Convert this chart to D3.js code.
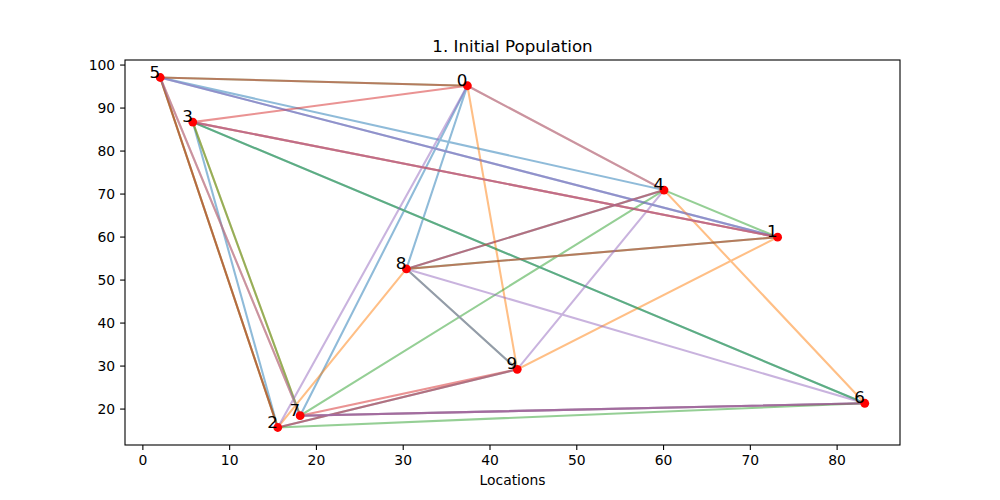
<!DOCTYPE html>
<html lang="en">
<head>
<meta charset="UTF-8">
<title>Initial Population</title>
<script src="https://d3js.org/d3.v7.min.js"></script>
<style>
  body { margin: 0; background: #fff; }
  svg { display: block; font-family: "DejaVu Sans", sans-serif; }
  .route { fill: none; stroke-width: 2.08px; stroke-opacity: 0.5; }
  .tick text { font-size: 13.9px; fill: #000; }
  .tick line { stroke: #000; stroke-width: 1.1px; }
</style>
</head>
<body>
<div id="container"></div>
<script>
// city coordinates
const cityIds = [0, 1, 2, 3, 4, 5, 6, 7, 8, 9];
const cityX = [37.454, 73.199, 15.602, 5.808, 60.112, 2.058, 83.244, 18.182, 30.424, 43.195];
const cityY = [95.071, 59.866, 15.599, 86.618, 70.807, 96.991, 21.234, 18.340, 52.476, 29.123];

// routes of the initial population (visit order)
const routes = [
  [1, 5, 4, 8, 0, 7, 6, 3, 2, 9],
  [8, 2, 5, 7, 3, 1, 9, 0, 4, 6],
  [0, 5, 2, 6, 3, 7, 4, 1, 8, 9],
  [4, 8, 1, 3, 0, 5, 2, 9, 7, 6],
  [2, 0, 4, 9, 8, 6, 7, 5, 1, 3]
];
const routeColors = ["#1f77b4", "#ff7f0e", "#2ca02c", "#d62728", "#9467bd"];

const xTicks = [0, 10, 20, 30, 40, 50, 60, 70, 80];
const yTicks = [20, 30, 40, 50, 60, 70, 80, 90, 100];

const width = 1000, height = 500;
const margin = {left: 125, right: 100, top: 60, bottom: 55};

const svg = d3.select("#container").append("svg")
  .attr("width", width)
  .attr("height", height);

// autoscale with 5% padding like matplotlib
function padded(vals) {
  const [lo, hi] = d3.extent(vals);
  const m = (hi - lo) * 0.05;
  return [lo - m, hi + m];
}

const x = d3.scaleLinear().domain(padded(cityX)).range([margin.left, width - margin.right]);
const y = d3.scaleLinear().domain(padded(cityY)).range([height - margin.bottom, margin.top]);

// routes
const line = d3.line().x(d => x(cityX[d])).y(d => y(cityY[d]));
svg.append("g").selectAll("path")
  .data(routes)
  .enter().append("path")
  .attr("class", "route")
  .attr("stroke", (d, i) => routeColors[i])
  .attr("d", d => line(d));

// scatter of cities (on top of the routes)
svg.append("g").selectAll("circle")
  .data(cityIds)
  .enter().append("circle")
  .attr("cx", d => x(cityX[d]))
  .attr("cy", d => y(cityY[d]))
  .attr("r", 4.4)
  .attr("fill", "red");

// city labels
svg.append("g").selectAll("text")
  .data(cityIds)
  .enter().append("text")
  .attr("x", d => x(cityX[d]))
  .attr("y", d => y(cityY[d]))
  .attr("text-anchor", "end")
  .attr("font-size", "16.7px")
  .text(d => d);

// axes
const xAxis = svg.append("g")
  .attr("transform", `translate(0,${height - margin.bottom})`)
  .call(d3.axisBottom(x).tickValues(xTicks).tickSize(4.9).tickPadding(4.9).tickFormat(d3.format("d")));
const yAxis = svg.append("g")
  .attr("transform", `translate(${margin.left},0)`)
  .call(d3.axisLeft(y).tickValues(yTicks).tickSize(4.9).tickPadding(4.9).tickFormat(d3.format("d")));
xAxis.select(".domain").remove();
yAxis.select(".domain").remove();
svg.selectAll(".tick text").attr("font-family", "DejaVu Sans");

// frame
svg.append("rect")
  .attr("x", margin.left)
  .attr("y", margin.top)
  .attr("width", width - margin.left - margin.right)
  .attr("height", height - margin.top - margin.bottom)
  .attr("fill", "none")
  .attr("stroke", "#000")
  .attr("stroke-width", 1.1);

// title and label
svg.append("text")
  .attr("x", (margin.left + width - margin.right) / 2)
  .attr("y", margin.top - 8.5)
  .attr("text-anchor", "middle")
  .attr("font-size", "16.7px")
  .text("1. Initial Population");

svg.append("text")
  .attr("x", (margin.left + width - margin.right) / 2)
  .attr("y", 485)
  .attr("text-anchor", "middle")
  .attr("font-size", "13.9px")
  .text("Locations");
</script>
</body>
</html>
